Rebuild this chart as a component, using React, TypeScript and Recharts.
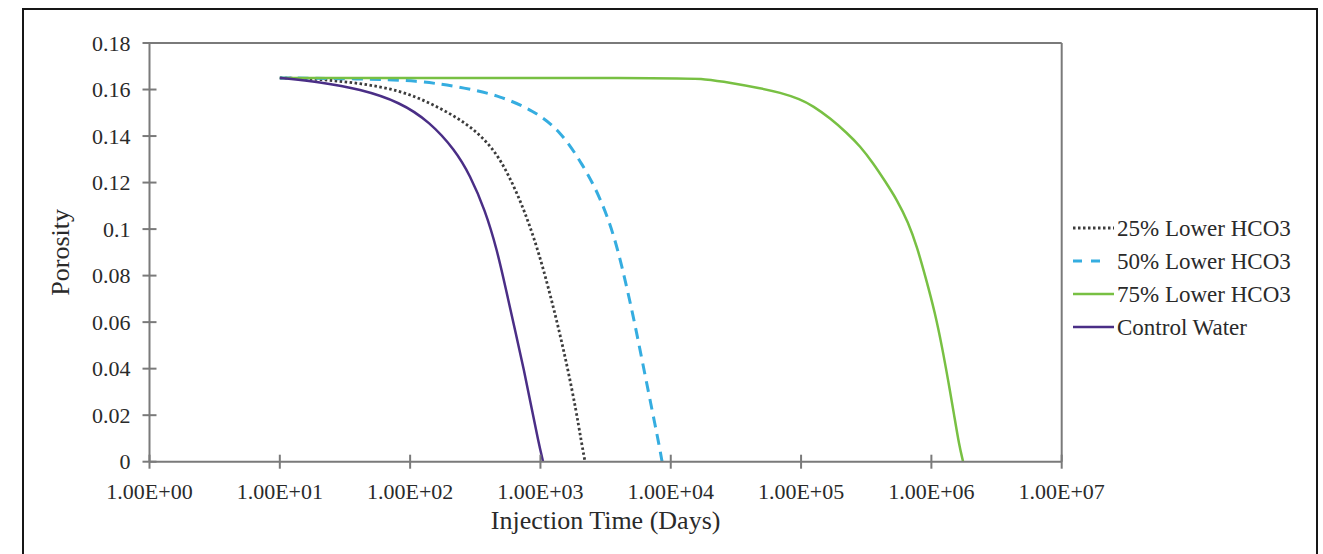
import React from 'react';
import { LineChart, Line, XAxis, YAxis, ReferenceLine } from 'recharts';

// injection time (days) vs porosity
const lower25 = [
  { t: 10, p: 0.165 },
  { t: 20.3, p: 0.1645 },
  { t: 41.3, p: 0.1627 },
  { t: 83.7, p: 0.1597 },
  { t: 150, p: 0.1537 },
  { t: 273, p: 0.1456 },
  { t: 433, p: 0.1352 },
  { t: 584, p: 0.1223 },
  { t: 762, p: 0.1073 },
  { t: 958, p: 0.091 },
  { t: 1164, p: 0.0738 },
  { t: 1389, p: 0.0566 },
  { t: 1628, p: 0.0394 },
  { t: 1876, p: 0.0222 },
  { t: 2049, p: 0.0093 },
  { t: 2199, p: 0 },
];

const lower50 = [
  { t: 10, p: 0.165 },
  { t: 41.3, p: 0.1646 },
  { t: 113, p: 0.164 },
  { t: 273, p: 0.1606 },
  { t: 490, p: 0.1572 },
  { t: 877, p: 0.1511 },
  { t: 1413, p: 0.1425 },
  { t: 2123, p: 0.1275 },
  { t: 2867, p: 0.1138 },
  { t: 3672, p: 0.0974 },
  { t: 4380, p: 0.0802 },
  { t: 5136, p: 0.063 },
  { t: 5917, p: 0.0459 },
  { t: 6816, p: 0.0287 },
  { t: 7579, p: 0.0158 },
  { t: 8136, p: 0.0072 },
  { t: 8579, p: 0 },
];

const lower75 = [
  { t: 10, p: 0.165 },
  { t: 11790, p: 0.165 },
  { t: 18340, p: 0.1645 },
  { t: 28520, p: 0.163 },
  { t: 48450, p: 0.1606 },
  { t: 69000, p: 0.1587 },
  { t: 98240, p: 0.1559 },
  { t: 123600, p: 0.1529 },
  { t: 166900, p: 0.1477 },
  { t: 225400, p: 0.1413 },
  { t: 283700, p: 0.1357 },
  { t: 356900, p: 0.1284 },
  { t: 441200, p: 0.1206 },
  { t: 545500, p: 0.1125 },
  { t: 662700, p: 0.103 },
  { t: 776900, p: 0.0923 },
  { t: 910800, p: 0.0785 },
  { t: 1067000, p: 0.0639 },
  { t: 1208000, p: 0.0493 },
  { t: 1344000, p: 0.0351 },
  { t: 1494000, p: 0.0201 },
  { t: 1632000, p: 0.0072 },
  { t: 1751000, p: 0 },
];

const control = [
  { t: 10, p: 0.165 },
  { t: 20.3, p: 0.1632 },
  { t: 41.3, p: 0.1602 },
  { t: 83.7, p: 0.1546 },
  { t: 142, p: 0.146 },
  { t: 221, p: 0.134 },
  { t: 288, p: 0.1232 },
  { t: 376, p: 0.1082 },
  { t: 465, p: 0.091 },
  { t: 545, p: 0.0738 },
  { t: 638, p: 0.0566 },
  { t: 748, p: 0.0394 },
  { t: 862, p: 0.0222 },
  { t: 959, p: 0.0093 },
  { t: 1047, p: 0 },
];

const xTicks = [1, 10, 100, 1000, 10000, 100000, 1000000, 10000000];
const yTicks = [0, 0.02, 0.04, 0.06, 0.08, 0.1, 0.12, 0.14, 0.16, 0.18];

const series = [
  { name: '25% Lower HCO3', data: lower25, color: '#3c3c3c', dash: '2.5 2.5', width: 2.8 },
  { name: '50% Lower HCO3', data: lower50, color: '#35ade0', dash: '11 7', width: 3 },
  { name: '75% Lower HCO3', data: lower75, color: '#78c043', dash: undefined, width: 2.5 },
  { name: 'Control Water', data: control, color: '#4a2e86', dash: undefined, width: 2.5 },
];

const FONT = '"Liberation Serif", "Times New Roman", serif';
const AXIS = '#7a7a7a';
const TEXT = '#2a2a2a';

const sci = (v: number) => {
  const e = Math.round(Math.log10(v));
  return `1.00E+${String(e).padStart(2, '0')}`;
};

const XTick = (props: any) => {
  const { x, y, payload } = props;
  return (
    <g>
      <line x1={x} x2={x} y1={y - 7} y2={y + 7} stroke={AXIS} strokeWidth={2} />
      <text x={x} y={y + 37} textAnchor="middle" style={{ fontFamily: FONT, fontSize: 22, fill: TEXT }}>
        {sci(payload.value)}
      </text>
    </g>
  );
};

const YTick = (props: any) => {
  const { x, y, payload } = props;
  return (
    <g>
      <line x1={x - 7} x2={x + 7} y1={y} y2={y} stroke={AXIS} strokeWidth={2} />
      <text x={x - 19} y={y + 7.5} textAnchor="end" style={{ fontFamily: FONT, fontSize: 22, fill: TEXT }}>
        {String(Number(payload.value.toFixed(2)))}
      </text>
    </g>
  );
};

const LegendBox = () => (
  <svg width={260} height={150} style={{ position: 'absolute', left: 1060, top: 195 }}>
    {series.map((s, i) => {
      const cy = 33 + i * 33;
      return (
        <g key={s.name}>
          {s.dash === '11 7' ? (
            <line x1={13} x2={40} y1={cy} y2={cy} stroke={s.color} strokeWidth={s.width} strokeDasharray="9 9" />
          ) : (
            <line x1={13} x2={54} y1={cy} y2={cy} stroke={s.color} strokeWidth={s.width} strokeDasharray={s.dash} />
          )}
          <text x={57} y={cy + 7.5} style={{ fontFamily: FONT, fontSize: 23, fill: TEXT }}>
            {s.name}
          </text>
        </g>
      );
    })}
  </svg>
);

export default function App() {
  return (
    <div style={{ position: 'absolute', left: 0, top: 0, width: 1323, height: 554, overflow: 'hidden', background: '#fff' }}>
      <div
        style={{
          position: 'absolute', left: 22, top: 8, width: 1296, height: 560,
          border: '2px solid #161616', borderBottom: 'none', boxSizing: 'border-box',
        }}
      />
      <div style={{ position: 'absolute', left: 0, top: 0 }}>
        <LineChart width={1323} height={554} margin={{ top: 43, right: 261.3, bottom: 12.3, left: 49.5 }}>
          <XAxis
            dataKey="t"
            type="number"
            scale="log"
            domain={[1, 10000000]}
            ticks={xTicks}
            interval={0}
            allowDataOverflow
            height={80}
            tickSize={0}
            tickMargin={0}
            tick={<XTick />}
            axisLine={{ stroke: AXIS, strokeWidth: 2 }}
            label={{ value: 'Injection Time (Days)', position: 'insideBottom', offset: 13, style: { fontFamily: FONT, fontSize: 26, fill: TEXT } }}
          />
          <YAxis
            type="number"
            domain={[0, 0.18]}
            ticks={yTicks}
            interval={0}
            width={100}
            tickSize={0}
            tickMargin={0}
            tick={<YTick />}
            axisLine={{ stroke: AXIS, strokeWidth: 2 }}
            label={{ value: 'Porosity', angle: -90, position: 'insideLeft', offset: 10, style: { textAnchor: 'middle', fontFamily: FONT, fontSize: 26, fill: TEXT } }}
          />
          <ReferenceLine y={0.18} stroke={AXIS} strokeWidth={2} />
          <ReferenceLine x={10000000} stroke={AXIS} strokeWidth={2} />
          {series.map((s) => (
            <Line
              key={s.name}
              data={s.data}
              dataKey="p"
              name={s.name}
              type="basis"
              stroke={s.color}
              strokeWidth={s.width}
              strokeDasharray={s.dash}
              dot={false}
              activeDot={false}
              isAnimationActive={false}
            />
          ))}
        </LineChart>
      </div>
      <LegendBox />
    </div>
  );
}
